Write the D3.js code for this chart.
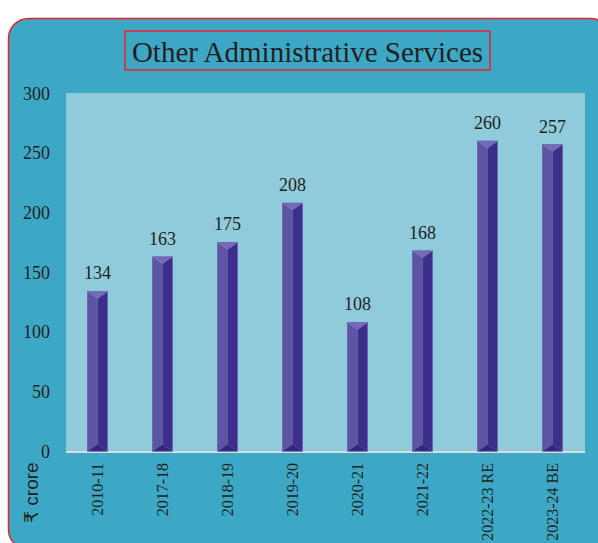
<!DOCTYPE html>
<html>
<head>
<meta charset="utf-8">
<script src="https://cdn.jsdelivr.net/npm/d3@7"></script>
<style>
  html, body { margin: 0; padding: 0; background: #ffffff; }
  svg { display: block; }
</style>
</head>
<body>
<div id="chart"></div>
<script>
// chart values
var years = ["2010-11", "2017-18", "2018-19", "2019-20", "2020-21", "2021-22", "2022-23 RE", "2023-24 BE"];
var values = [134, 163, 175, 208, 108, 168, 260, 257];
var yTicks = [0, 50, 100, 150, 200, 250, 300];
var title = "Other Administrative Services";
var unitLabel = "\u20B9 crore";

var svgWidth = 598;
var svgHeight = 543;

// plot panel
var panel = { left: 66, right: 585, top: 93, bottom: 451 };

var svg = d3.select("#chart")
  .append("svg")
  .attr("width", svgWidth)
  .attr("height", svgHeight);

// card background
svg.append("rect")
  .attr("x", 8.5)
  .attr("y", 18.5)
  .attr("width", 602)
  .attr("height", 531)
  .attr("rx", 20)
  .attr("fill", "#3da8c6")
  .attr("stroke", "#e8232b")
  .attr("stroke-width", 1.5);

// title with box
svg.append("rect")
  .attr("x", 125)
  .attr("y", 31)
  .attr("width", 365)
  .attr("height", 39)
  .attr("fill", "none")
  .attr("stroke", "#e8232b")
  .attr("stroke-width", 1.5);

svg.append("text")
  .attr("x", 307.5)
  .attr("y", 62)
  .attr("text-anchor", "middle")
  .style("font-family", "'Liberation Serif', 'Times New Roman', serif")
  .style("font-size", "29px")
  .attr("fill", "#231f20")
  .text(title);

// light panel
svg.append("rect")
  .attr("x", panel.left)
  .attr("y", panel.top)
  .attr("width", panel.right - panel.left)
  .attr("height", panel.bottom - panel.top)
  .attr("fill", "#90cbdc");

var x = d3.scaleBand()
  .domain(years)
  .range([65, 585])
  .paddingInner(0.69)
  .paddingOuter(0.345);

var y = d3.scaleLinear()
  .domain([0, 300])
  .range([451.3, 93.3]);

// y axis, labels only
var yAxis = svg.append("g")
  .attr("transform", "translate(50,0)")
  .call(d3.axisLeft(y).tickValues(yTicks).tickSize(0).tickPadding(0));
yAxis.select(".domain").remove();
yAxis.selectAll("text")
  .style("font-family", "'Liberation Serif', 'Times New Roman', serif")
  .style("font-size", "18px")
  .attr("fill", "#231f20");

// baseline
svg.append("line")
  .attr("x1", panel.left)
  .attr("x2", panel.right)
  .attr("y1", 452)
  .attr("y2", 452)
  .attr("stroke", "#dcdcdc")
  .attr("stroke-width", 2);

// bars drawn as bevelled prisms
var bev = 7;
var bars = svg.selectAll("g.bar")
  .data(values)
  .enter()
  .append("g")
  .attr("class", "bar");

function pts(arr) { return arr.map(p => p.join(",")).join(" "); }

bars.each(function(v, i) {
  var g = d3.select(this);
  var x0 = x(years[i]);
  var x1 = x0 + x.bandwidth();
  var cx = (x0 + x1) / 2;
  var yt = y(v);
  var yb = y(0);
  g.append("polygon")
    .attr("points", pts([[x0, yt], [cx, yt + bev], [cx, yb - bev], [x0, yb]]))
    .attr("fill", "#5d54a4");
  g.append("polygon")
    .attr("points", pts([[x1, yt], [cx, yt + bev], [cx, yb - bev], [x1, yb]]))
    .attr("fill", "#3e2e8b");
  g.append("polygon")
    .attr("points", pts([[x0, yt], [x1, yt], [cx, yt + bev]]))
    .attr("fill", "#7767b8");
  g.append("polygon")
    .attr("points", pts([[x0, yb], [x1, yb], [cx, yb - bev]]))
    .attr("fill", "#34277a");
  g.append("rect")
    .attr("x", x0)
    .attr("y", yt)
    .attr("width", x.bandwidth())
    .attr("height", yb - yt)
    .attr("fill", "none")
    .attr("stroke", "#6b63b6")
    .attr("stroke-width", 0.8);
});

// value labels
svg.selectAll("text.val")
  .data(values)
  .enter()
  .append("text")
  .attr("class", "val")
  .attr("x", (d, i) => x(years[i]) + x.bandwidth() / 2)
  .attr("y", d => y(d) - 12)
  .attr("text-anchor", "middle")
  .style("font-family", "'Liberation Serif', 'Times New Roman', serif")
  .style("font-size", "18px")
  .attr("fill", "#231f20")
  .text(d => d);

// category labels, rotated
svg.selectAll("text.cat")
  .data(years)
  .enter()
  .append("text")
  .attr("class", "cat")
  .attr("transform", d => `translate(${x(d) + x.bandwidth() / 2},463) rotate(-90)`)
  .attr("dy", "0.35em")
  .attr("text-anchor", "end")
  .style("font-family", "'Liberation Serif', 'Times New Roman', serif")
  .style("font-size", "16px")
  .attr("fill", "#231f20")
  .text(d => d);

// unit label
svg.append("text")
  .attr("transform", "translate(38,523) rotate(-90)")
  .attr("text-anchor", "start")
  .style("font-family", "'Liberation Sans', 'DejaVu Sans', Arial, sans-serif")
  .style("font-size", "19px")
  .attr("fill", "#231f20")
  .text(unitLabel);
</script>
</body>
</html>
